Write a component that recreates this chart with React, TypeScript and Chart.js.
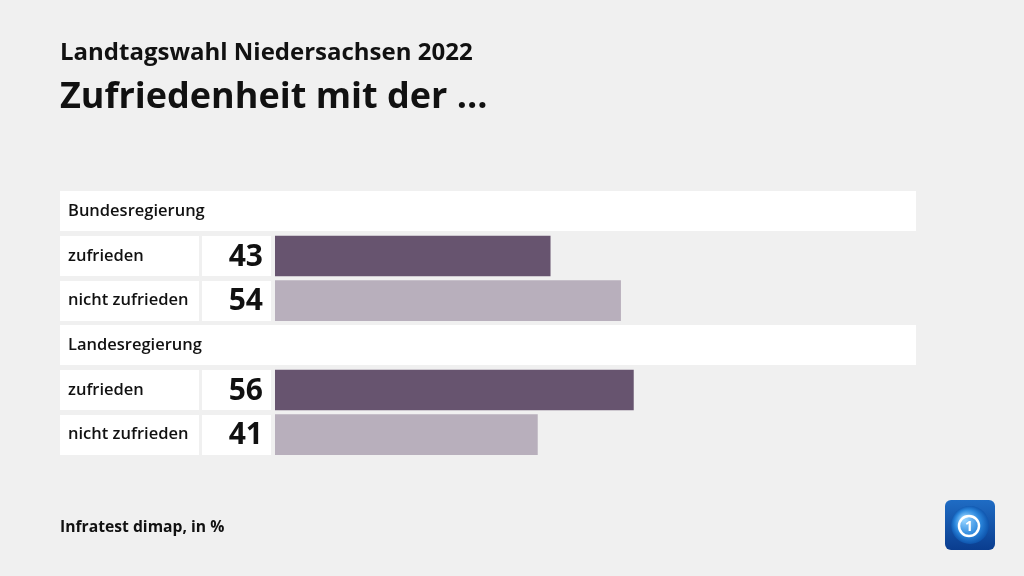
import React, { useEffect, useRef } from "react";
import { Chart, registerables } from "chart.js";

Chart.register(...registerables);

const title = "Landtagswahl Niedersachsen 2022";
const subtitle = "Zufriedenheit mit der ...";
const source = "Infratest dimap, in %";

const groups = ["Bundesregierung", "Landesregierung"];
const answers = ["zufrieden", "nicht zufrieden"];
const bundesValues = [43, 54];
const landesValues = [56, 41];
const answerColors = ["#67546f", "#b8afbc"];

const FONT = '"Open Sans", "Noto Sans", sans-serif';

const groupValues = [bundesValues, landesValues];
const rowLabels: string[] = [];
const rowValues: (number | null)[] = [];
const rowColors: string[] = [];
const rowIsHeader: boolean[] = [];
groups.forEach((g, gi) => {
  rowLabels.push(g);
  rowValues.push(null);
  rowColors.push("rgba(0,0,0,0)");
  rowIsHeader.push(true);
  answers.forEach((a, ai) => {
    rowLabels.push(a);
    rowValues.push(groupValues[gi][ai]);
    rowColors.push(answerColors[ai]);
    rowIsHeader.push(false);
  });
});

const tablePlugin = {
  id: "tableCells",
  beforeDatasetsDraw(chart: any) {
    const ctx = chart.ctx as CanvasRenderingContext2D;
    const ys = chart.scales.y;
    const xs = chart.scales.x;
    const right = xs.getPixelForValue(100) + 1;
    ctx.save();
    rowLabels.forEach((label, i) => {
      const cy = ys.getPixelForValue(i);
      const top = Math.round(cy - 20);
      ctx.fillStyle = "#ffffff";
      ctx.textBaseline = "middle";
      if (rowIsHeader[i]) {
        ctx.fillRect(60, top, right - 60, 40);
        ctx.fillStyle = "#111111";
        ctx.textAlign = "left";
        ctx.font = `600 16.5px ${FONT}`;
        ctx.fillText(label, 68, cy);
      } else {
        ctx.fillRect(60, top, 139, 40);
        ctx.fillRect(202, top, 69, 40);
        ctx.fillStyle = "#111111";
        ctx.textAlign = "left";
        ctx.font = `600 16.5px ${FONT}`;
        ctx.fillText(label, 68, cy);
        ctx.textAlign = "right";
        ctx.font = `700 30px ${FONT}`;
        ctx.fillText(String(rowValues[i]), 263, cy + 1);
      }
    });
    ctx.restore();
  },
  afterDraw(chart: any) {
    const ctx = chart.ctx as CanvasRenderingContext2D;
    ctx.save();
    const x = 945, y = 500, s = 50, r = 6;
    const g = ctx.createLinearGradient(x, y, x, y + s);
    g.addColorStop(0, "#1f6cc4");
    g.addColorStop(1, "#0a3d8f");
    ctx.fillStyle = g;
    ctx.beginPath();
    ctx.roundRect(x, y, s, s, r);
    ctx.fill();
    const cx = x + 25, cy = y + 25;
    const rg = ctx.createRadialGradient(cx - 6, cy - 6, 2, cx, cy, 20);
    rg.addColorStop(0, "#8fd0ff");
    rg.addColorStop(0.6, "#2a86dc");
    rg.addColorStop(1, "#0b4fa8");
    ctx.fillStyle = rg;
    ctx.beginPath();
    ctx.arc(cx, cy, 19, 0, Math.PI * 2);
    ctx.fill();
    ctx.strokeStyle = "#ffffff";
    ctx.lineWidth = 2.5;
    ctx.beginPath();
    ctx.arc(cx - 1, cy + 1, 10, 0, Math.PI * 2);
    ctx.stroke();
    ctx.fillStyle = "#ffffff";
    ctx.font = `700 14px ${FONT}`;
    ctx.textAlign = "center";
    ctx.textBaseline = "middle";
    ctx.fillText("1", cx - 1, cy + 2);
    ctx.restore();
  },
};

export default function App() {
  const ref = useRef<HTMLCanvasElement | null>(null);
  useEffect(() => {
    if (!ref.current) return;
    const chart = new Chart(ref.current, {
      type: "bar",
      data: {
        labels: rowLabels,
        datasets: [
          {
            data: rowValues as any,
            backgroundColor: rowColors,
            borderWidth: 0,
            barThickness: 40,
          },
        ],
      },
      options: {
        indexAxis: "y",
        responsive: false,
        animation: false,
        devicePixelRatio: 1,
        layout: { padding: { left: 275, right: 109, top: 189, bottom: 119 } },
        plugins: { legend: { display: false }, tooltip: { enabled: false }, title: { display: false } },
        scales: {
          x: { display: false, min: 0, max: 100 },
          y: { display: false },
        },
      },
      plugins: [tablePlugin],
    });
    return () => chart.destroy();
  }, []);

  const textBase: React.CSSProperties = {
    position: "absolute",
    left: 60,
    margin: 0,
    lineHeight: 1,
    whiteSpace: "nowrap",
    color: "#111111",
    fontFamily: FONT,
  };

  return (
    <div style={{ position: "fixed", left: 0, top: 0, width: 1024, height: 576, background: "#f0f0f0", overflow: "hidden" }}>
      <canvas ref={ref} width={1024} height={576} style={{ position: "absolute", left: 0, top: 0, width: 1024, height: 576 }} />
      <div style={{ ...textBase, top: 39, fontSize: 24, fontWeight: 700 }}>{title}</div>
      <div style={{ ...textBase, top: 77, fontSize: 36, fontWeight: 700 }}>{subtitle}</div>
      <div style={{ ...textBase, top: 519, fontSize: 15.7, fontWeight: 700 }}>{source}</div>
    </div>
  );
}
